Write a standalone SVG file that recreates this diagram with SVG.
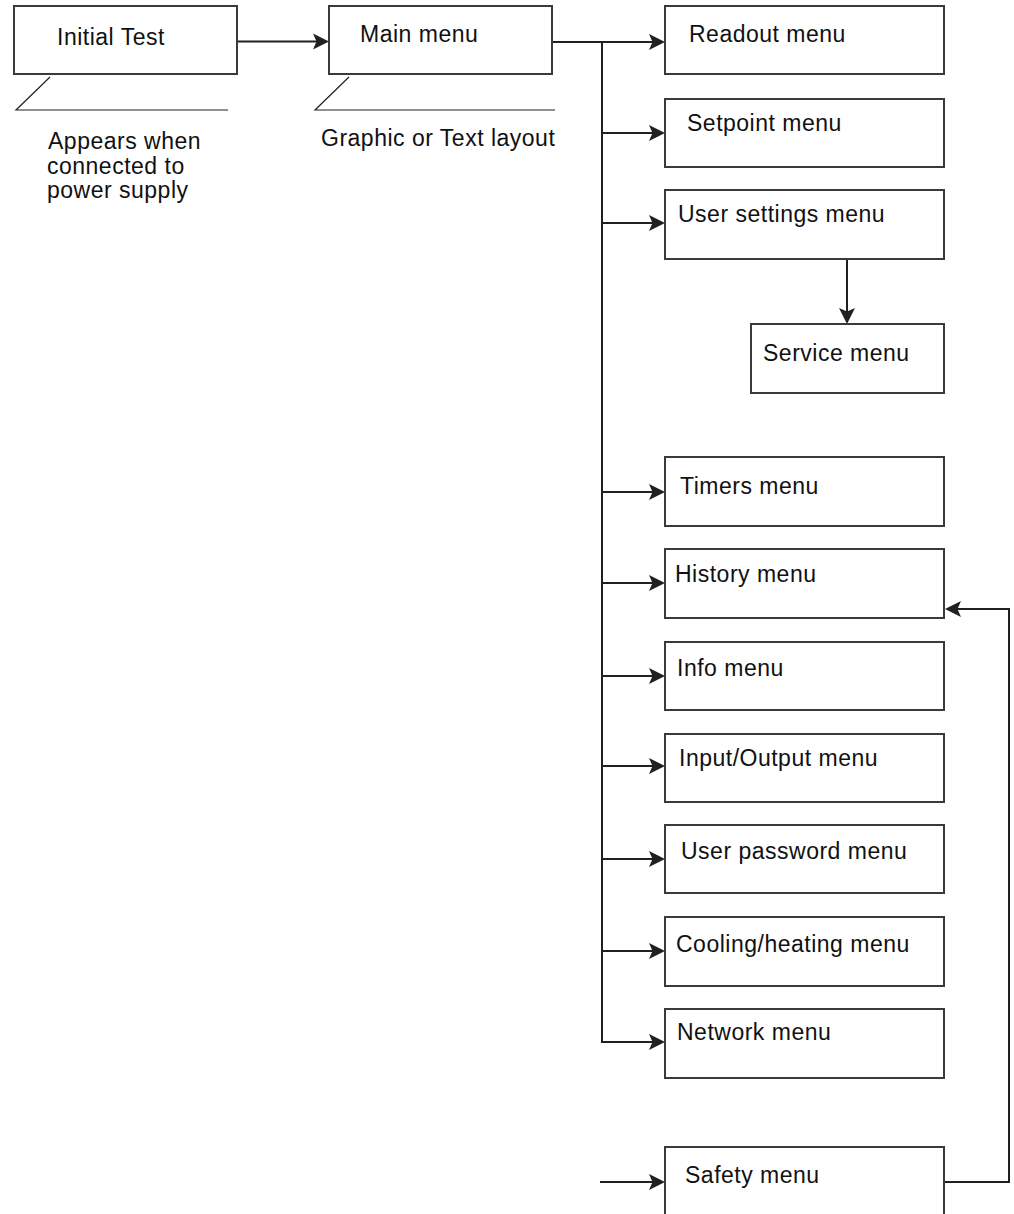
<svg xmlns="http://www.w3.org/2000/svg" xmlns:xlink="http://www.w3.org/1999/xlink" width="1014" height="1214" viewBox="0 0 1014 1214">
<defs>
<style>
.box{fill:#fff;stroke:#3a3a3a;stroke-width:2}
.t{font-family:"Liberation Sans",Arial,sans-serif;font-size:23px;letter-spacing:0.5px;fill:#111}
.ln{fill:none;stroke:#231f20;stroke-width:2}
.thin{fill:none;stroke:#231f20;stroke-width:1.2}
.ah{fill:#231f20}
</style>
<path id="arr" d="M0,0 L-16,-8 L-12.5,0 L-16,8 z"/>
</defs>
<rect width="1014" height="1214" fill="#fff"/>
<g id="connectors">
<line class="ln" x1="237" y1="41.5" x2="320" y2="41.5"/>
<line class="ln" x1="552" y1="42" x2="656" y2="42"/>
<polyline class="ln" points="602,42 602,1042 656,1042"/>
<line class="ln" x1="602" y1="133" x2="656" y2="133"/>
<line class="ln" x1="602" y1="223" x2="656" y2="223"/>
<line class="ln" x1="847" y1="259" x2="847" y2="315"/>
<line class="ln" x1="602" y1="492" x2="656" y2="492"/>
<line class="ln" x1="602" y1="583" x2="656" y2="583"/>
<line class="ln" x1="602" y1="676" x2="656" y2="676"/>
<line class="ln" x1="602" y1="766" x2="656" y2="766"/>
<line class="ln" x1="602" y1="859" x2="656" y2="859"/>
<line class="ln" x1="602" y1="951" x2="656" y2="951"/>
<line class="ln" x1="600" y1="1182" x2="656" y2="1182"/>
<polyline class="ln" points="944,1182 1009,1182 1009,609 954,609"/>
<use xlink:href="#arr" href="#arr" class="ah" transform="translate(329,41.5)"/>
<use xlink:href="#arr" href="#arr" class="ah" transform="translate(665,42)"/>
<use xlink:href="#arr" href="#arr" class="ah" transform="translate(665,133)"/>
<use xlink:href="#arr" href="#arr" class="ah" transform="translate(665,223)"/>
<use xlink:href="#arr" href="#arr" class="ah" transform="translate(847,324) rotate(90)"/>
<use xlink:href="#arr" href="#arr" class="ah" transform="translate(665,492)"/>
<use xlink:href="#arr" href="#arr" class="ah" transform="translate(665,583)"/>
<use xlink:href="#arr" href="#arr" class="ah" transform="translate(665,676)"/>
<use xlink:href="#arr" href="#arr" class="ah" transform="translate(665,766)"/>
<use xlink:href="#arr" href="#arr" class="ah" transform="translate(665,859)"/>
<use xlink:href="#arr" href="#arr" class="ah" transform="translate(665,951)"/>
<use xlink:href="#arr" href="#arr" class="ah" transform="translate(665,1042)"/>
<use xlink:href="#arr" href="#arr" class="ah" transform="translate(665,1182)"/>
<use xlink:href="#arr" href="#arr" class="ah" transform="translate(945,609) rotate(180)"/>
</g>
<g id="initial-test">
<rect class="box" x="14" y="6" width="223" height="68"/>
<text class="t" x="57" y="45">Initial Test</text>
<polyline class="thin" points="50,77 16,110 228,110"/>
<text class="t" x="48" y="149">Appears when</text>
<text class="t" x="47" y="174">connected to</text>
<text class="t" x="47" y="198">power supply</text>
</g>
<g id="main-menu">
<rect class="box" x="329" y="6" width="223" height="68"/>
<text class="t" x="360" y="42">Main menu</text>
<polyline class="thin" points="349,77 315,110 555,110"/>
<text class="t" x="321" y="146">Graphic or Text layout</text>
</g>
<g id="readout-menu"><rect class="box" x="665" y="6" width="279" height="68"/><text class="t" x="689" y="42">Readout menu</text></g>
<g id="setpoint-menu"><rect class="box" x="665" y="99" width="279" height="68"/><text class="t" x="687" y="131">Setpoint menu</text></g>
<g id="user-settings-menu"><rect class="box" x="665" y="190" width="279" height="69"/><text class="t" x="678" y="222">User settings menu</text></g>
<g id="service-menu"><rect class="box" x="751" y="324" width="193" height="69"/><text class="t" x="763" y="361">Service menu</text></g>
<g id="timers-menu"><rect class="box" x="665" y="457" width="279" height="69"/><text class="t" x="680" y="494">Timers menu</text></g>
<g id="history-menu"><rect class="box" x="665" y="549" width="279" height="69"/><text class="t" x="675" y="582">History menu</text></g>
<g id="info-menu"><rect class="box" x="665" y="642" width="279" height="68"/><text class="t" x="677" y="676">Info menu</text></g>
<g id="input-output-menu"><rect class="box" x="665" y="734" width="279" height="68"/><text class="t" x="679" y="766">Input/Output menu</text></g>
<g id="user-password-menu"><rect class="box" x="665" y="825" width="279" height="68"/><text class="t" x="681" y="859">User password menu</text></g>
<g id="cooling-heating-menu"><rect class="box" x="665" y="917" width="279" height="69"/><text class="t" x="676" y="952">Cooling/heating menu</text></g>
<g id="network-menu"><rect class="box" x="665" y="1009" width="279" height="69"/><text class="t" x="677" y="1040">Network menu</text></g>
<g id="safety-menu"><rect class="box" x="665" y="1147" width="279" height="80"/><text class="t" x="685" y="1183">Safety menu</text></g>
</svg>
